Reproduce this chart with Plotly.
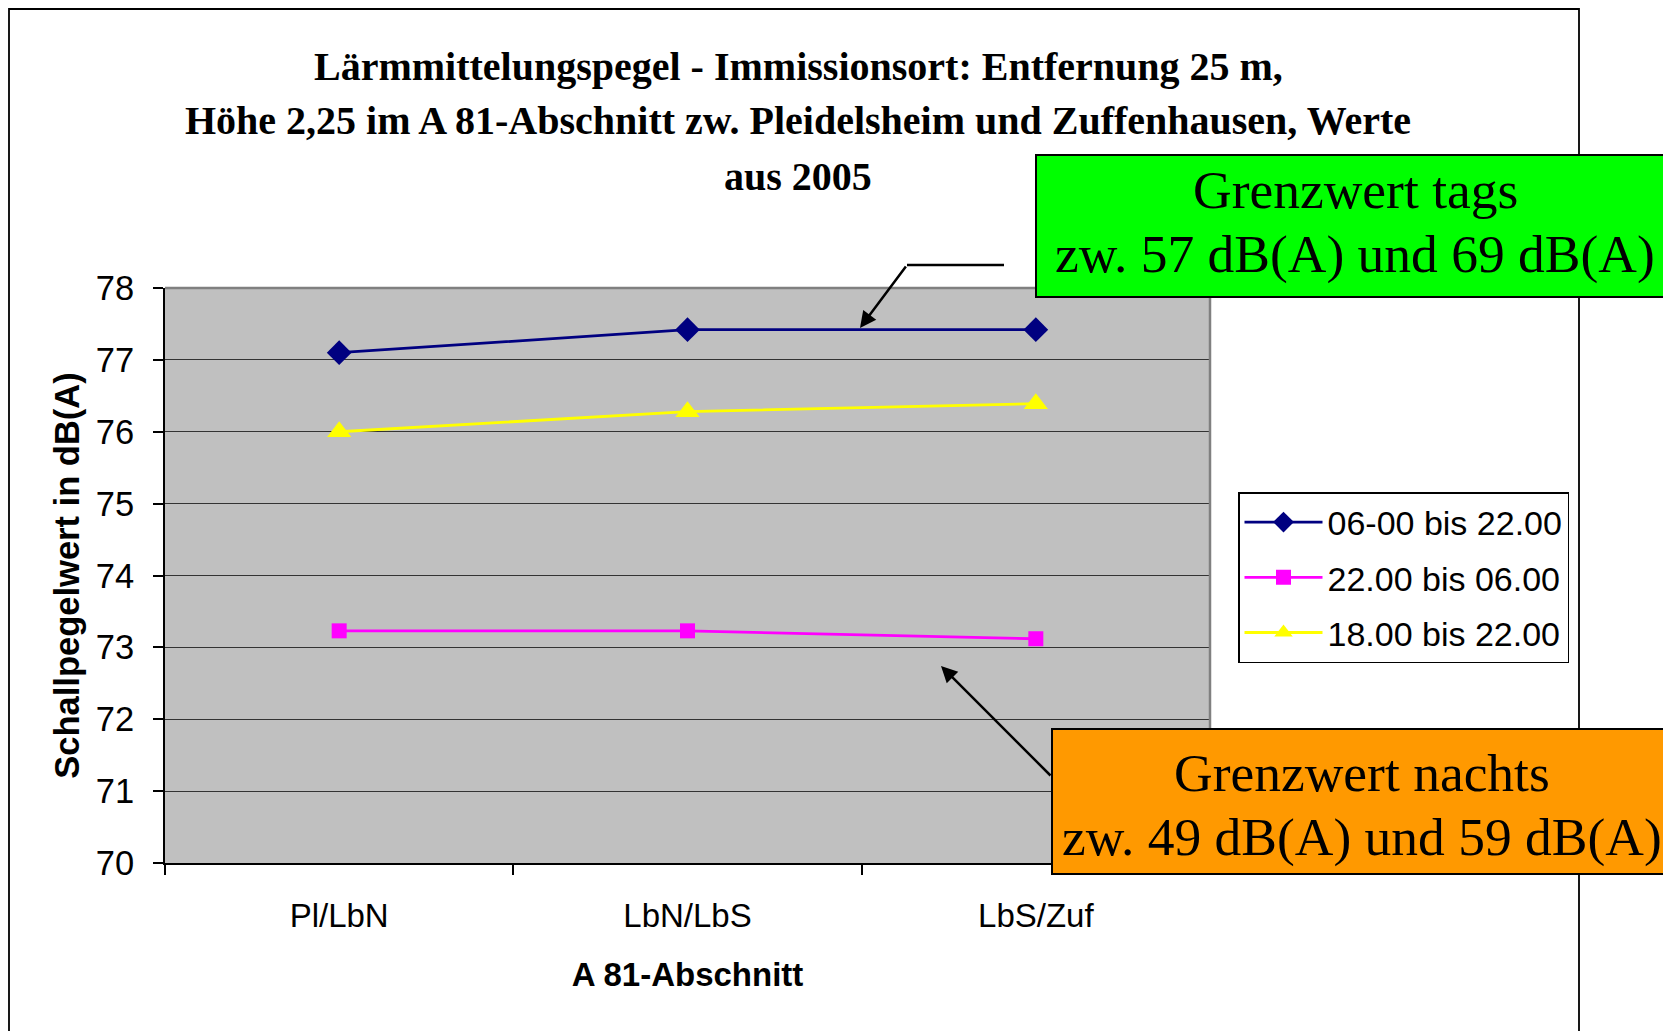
import plotly.graph_objects as go

categories = ["Pl/LbN", "LbN/LbS", "LbS/Zuf"]
tag = [77.1, 77.42, 77.42]
nacht = [73.23, 73.23, 73.12]
abend = [76.0, 76.28, 76.39]
series_names = ["06-00 bis 22.00", "22.00 bis 06.00", "18.00 bis 22.00"]
y_ticks = [70, 71, 72, 73, 74, 75, 76, 77, 78]

OFF = 8  # page body margin
W, H = 1671 - OFF, 1031 - OFF
# plot area in screen pixels
L, R, T, B = 165, 1210, 288, 863
pw, ph = R - L, B - T

def px(x):
    return (x - L) / pw

def py(y):
    return (B - y) / ph

fig = go.Figure()
fig.add_trace(go.Scatter(x=categories, y=tag, name=series_names[0], mode="lines+markers",
                         legendgroup="a",
                         line=dict(color="#000080", width=2.8),
                         marker=dict(symbol="diamond", size=19, color="#000080")))
fig.add_trace(go.Scatter(x=categories, y=nacht, name=series_names[1], mode="lines+markers",
                         legendgroup="b",
                         line=dict(color="#FF00FF", width=2.8),
                         marker=dict(symbol="square", size=15, color="#FF00FF")))
fig.add_trace(go.Scatter(x=categories, y=abend, name=series_names[2], mode="lines+markers",
                         legendgroup="c",
                         line=dict(color="#FFFF00", width=2.8),
                         marker=dict(symbol="triangle-up", size=21, color="#FFFF00")))

sans = "Liberation Sans, Arial, sans-serif"
serif = "Liberation Serif, Times New Roman, serif"

shapes = [
    # outer chart border
    dict(type="path", xref="paper", yref="paper", layer="above",
         path=f"M {px(9)} {py(1040)} L {px(9)} {py(9)} L {px(1579)} {py(9)} L {px(1579)} {py(1040)}",
         line=dict(color="black", width=1.8)),
    # plot area top/right border
    dict(type="path", xref="paper", yref="paper", layer="above",
         path=f"M {px(L)} {py(T)} L {px(R)} {py(T)} L {px(R)} {py(B)}",
         line=dict(color="#808080", width=2.5)),
    # green box
    dict(type="rect", xref="paper", yref="paper", layer="above",
         x0=px(1036), x1=px(1690), y0=py(297), y1=py(155),
         fillcolor="#00FF00", line=dict(color="black", width=2)),
    # orange box
    dict(type="rect", xref="paper", yref="paper", layer="above",
         x0=px(1052), x1=px(1690), y0=py(874), y1=py(729),
         fillcolor="#FF9900", line=dict(color="black", width=2)),
    # horizontal part of the top callout line
    dict(type="line", xref="paper", yref="paper", layer="above",
         x0=px(1004), x1=px(907), y0=py(265), y1=py(265),
         line=dict(color="black", width=2.5)),
]

annotations = []
title_lines = [
    ("Lärmmittelungspegel - Immissionsort: Entfernung 25 m,", 66),
    ("Höhe 2,25 im A 81-Abschnitt zw. Pleidelsheim und Zuffenhausen, Werte", 120),
    ("aus 2005", 176),
]
for txt, yc in title_lines:
    annotations.append(dict(text=f"<b>{txt}</b>", xref="paper", yref="paper",
                            x=px(798), y=py(yc), xanchor="center", yanchor="middle",
                            showarrow=False, font=dict(family=serif, size=40, color="black")))

box_text = [
    ("Grenzwert tags", 1355, 190),
    ("zw. 57 dB(A) und 69 dB(A)", 1355, 254),
    ("Grenzwert nachts", 1362, 773),
    ("zw. 49 dB(A) und 59 dB(A)", 1362, 837),
]
for txt, xc, yc in box_text:
    annotations.append(dict(text=txt, xref="paper", yref="paper",
                            x=px(xc), y=py(yc), xanchor="center", yanchor="middle",
                            showarrow=False, font=dict(family=serif, size=53.5, color="black")))

# arrows
annotations.append(dict(text="", xref="paper", yref="paper", x=px(860), y=py(328),
                        ax=907 - 860, ay=265 - 328, showarrow=True,
                        arrowhead=2, arrowsize=1.3, arrowwidth=2.5, arrowcolor="black"))
annotations.append(dict(text="", xref="paper", yref="paper", x=px(941), y=py(666),
                        ax=1052 - 941, ay=777 - 666, showarrow=True,
                        arrowhead=2, arrowsize=1.3, arrowwidth=2.5, arrowcolor="black"))

fig.update_layout(
    width=W, height=H,
    margin=dict(l=L - OFF, r=W - (R - OFF), t=T - OFF, b=H - (B - OFF), pad=0),
    paper_bgcolor="white",
    plot_bgcolor="#C0C0C0",
    font=dict(family=sans, size=33, color="black"),
    showlegend=True,
    legend=dict(x=px(1238), y=py(492), xanchor="left", yanchor="top",
                bgcolor="white", bordercolor="black", borderwidth=1.5,
                font=dict(family=sans, size=34, color="black"),
                tracegroupgap=8, itemwidth=78, traceorder="grouped"),
    shapes=shapes,
    annotations=annotations,
    xaxis=dict(type="category", categoryorder="array", categoryarray=categories,
               range=[-0.5, 2.5], tickson="boundaries", ticks="outside", ticklen=10,
               tickcolor="black", tickwidth=1.5, showgrid=False, showline=True,
               linecolor="black", linewidth=2, ticklabelstandoff=22,
               tickfont=dict(family=sans, size=33),
               title=dict(text="<b>A 81-Abschnitt</b>", font=dict(family=sans, size=33), standoff=30),
               zeroline=False, fixedrange=True),
    yaxis=dict(range=[70, 78], tickvals=y_ticks, ticks="outside", ticklen=10,
               tickcolor="black", tickwidth=1.5, showgrid=True, gridcolor="#333333",
               gridwidth=1.2, showline=True, linecolor="black", linewidth=2,
               ticklabelstandoff=12, tickfont=dict(family=sans, size=34.5),
               title=dict(text="<b>Schallpegelwert in dB(A)</b>", font=dict(family=sans, size=34.5), standoff=6),
               zeroline=False, fixedrange=True),
)

fig.write_html("out.html")
